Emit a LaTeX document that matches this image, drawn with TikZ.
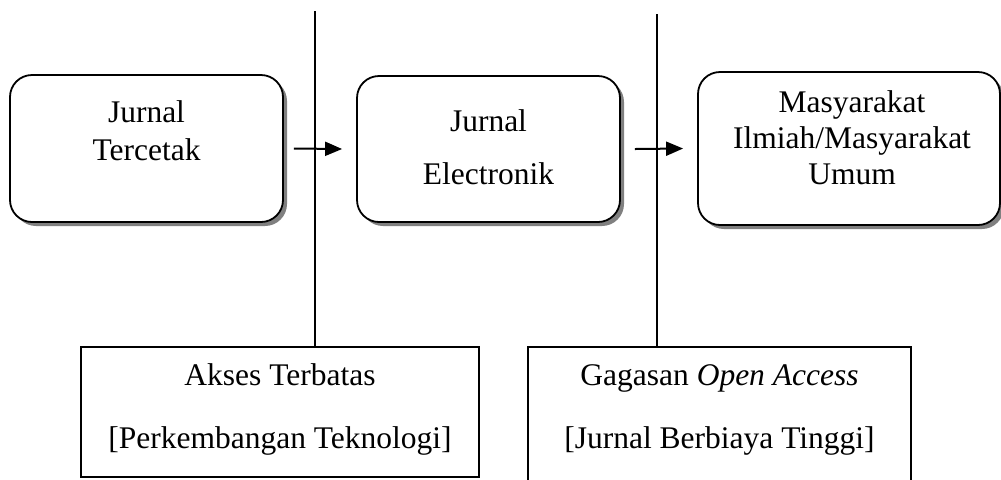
\documentclass[tikz,border=0pt]{standalone}
\usepackage{fontspec}
\setmainfont{Liberation Serif}
\usetikzlibrary{shadows,arrows.meta}

\begin{document}
\begin{tikzpicture}[x=0.5pt,y=-0.5pt,
        jbox/.style={draw, line width=0.9pt, rounded corners=11pt, fill=white, inner sep=0pt,
            drop shadow={shadow xshift=2pt, shadow yshift=-2pt, fill=black!50, opacity=1}},
        kotak/.style={draw, line width=0.9pt, fill=white, inner sep=0pt},
        teks/.style={align=center, anchor=base, inner sep=0pt},
        panah/.style={line width=1pt, -{Triangle[length=8.5pt,width=7pt]}}]
    \useasboundingbox (0,0) rectangle (1001,479);
    % garis pemisah
    \coordinate (atas1) at (315,11);
    \coordinate (atas2) at (657,14);
    % kotak bawah
    \node[kotak, minimum width=199pt, minimum height=65pt] (akses) at (280,412) {};
    \node[kotak, minimum width=191.5pt, minimum height=72.5pt] (gagasan) at (719.5,419.5) {};
    \draw[line width=1pt] (atas1) -- (atas1 |- akses.north);
    \draw[line width=1pt] (atas2) -- (atas2 |- gagasan.north);
    % kotak atas
    \node[jbox, minimum width=136.5pt, minimum height=73.5pt] (cetak) at (146.5,148.5) {};
    \node[jbox, minimum width=131.5pt, minimum height=73pt] (elek) at (488.5,149) {};
    \node[jbox, minimum width=151pt, minimum height=76.5pt] (umum) at (849,148.5) {};
    \draw[panah] ([xshift=5pt]cetak.east) -- ([xshift=-7pt]elek.west);
    \draw[panah] ([xshift=7pt]elek.east) -- ([xshift=-7pt]umum.west);
    % teks
    \node[teks, font=\fontsize{15.75}{19}\selectfont] (t1) at (146.5,160) {Jurnal\\Tercetak};
    \node[teks, font=\fontsize{15.75}{26.5}\selectfont] (t2) at (488.5,184) {Jurnal\\Electronik};
    \node[teks, font=\fontsize{15.75}{18}\selectfont] (t3) at (852,184) {Masyarakat\\Ilmiah/Masyarakat\\Umum};
    \node[teks, font=\fontsize{15.75}{31.5}\selectfont] (t4) at (280,448) {Akses Terbatas\\{}[Perkembangan Teknologi]};
    \node[teks, font=\fontsize{15.75}{31.5}\selectfont] (t5) at (719.5,448) {Gagasan \textit{Open Access}\\{}[Jurnal Berbiaya Tinggi]};
\end{tikzpicture}
\end{document}
